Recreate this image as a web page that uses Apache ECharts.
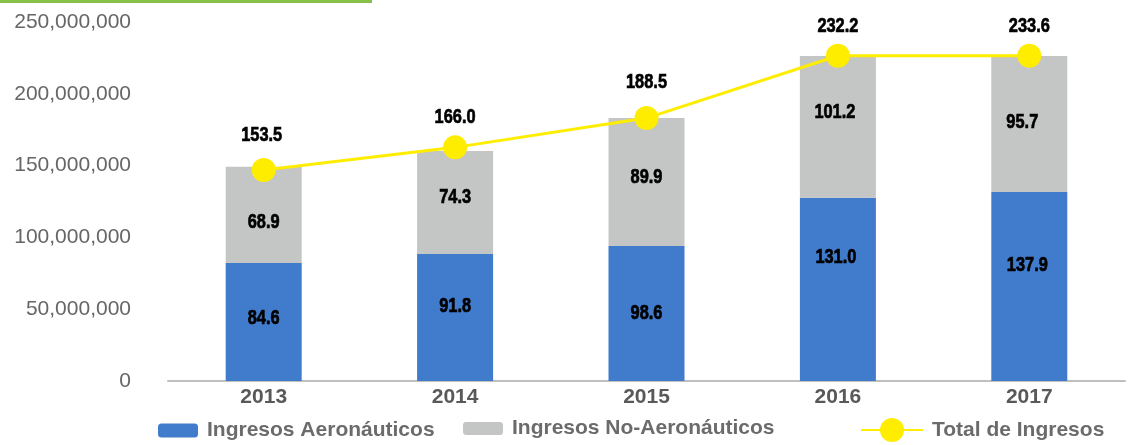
<!DOCTYPE html>
<html>
<head>
<meta charset="utf-8">
<script src="https://cdn.jsdelivr.net/npm/echarts@6/dist/echarts.min.js"></script>
<style>
  html, body { margin: 0; padding: 0; background: #fff; }
  #chart { width: 1130px; height: 445px; }
</style>
</head>
<body>
<div id="chart"></div>
<script>
// datos
var years = ['2013', '2014', '2015', '2016', '2017'];
var aeronauticos = [82.2e6, 88.4e6, 94.0e6, 127.6e6, 131.6e6];
var noAeronauticos = [67.0e6, 71.8e6, 89.1e6, 98.7e6, 94.7e6];
var totalIngresos = [146.9e6, 162.7e6, 183.1e6, 226.5e6, 226.5e6];
// etiquetas (millones)
var aeroLabels = ['84.6', '91.8', '98.6', '131.0', '137.9'];
var noAeroLabels = ['68.9', '74.3', '89.9', '101.2', '95.7'];
var totalLabels = ['153.5', '166.0', '188.5', '232.2', '233.6'];
var yTicks = [0, 50e6, 100e6, 150e6, 200e6, 250e6];

var AZUL = '#417ccc', GRIS = '#c4c5c5', AMARILLO = '#ffed00';
var sansFont = 'Arial, "Liberation Sans", sans-serif';

// ajustes de posicion de etiquetas en px (como en el original)
var aeroOff = [[0, -4], [0, -11], [0, 0], [-2, -32], [-2, -21]];
var noAeroOff = [[0, 7], [0, -5], [0, -5], [-3, -15], [-7, -2]];
var totalOff = [[-2, -35], [0, -30], [0, -36], [0, -30], [0, -30]];

function fmt(v) {
    return String(v).replace(/\B(?=(\d{3})+(?!\d))/g, ',');
}

// etiqueta en negrita angosta (Arial Narrow aprox.)
function serieEtiquetas(nombre, centros, textos, offs) {
    return {
        name: nombre,
        type: 'custom',
        z: 10,
        silent: true,
        data: centros.map(function (v, i) { return [i, v]; }),
        renderItem: function (params, api) {
            var i = params.dataIndex;
            var p = api.coord([api.value(0), api.value(1)]);
            return {
                type: 'text',
                x: p[0] + offs[i][0],
                y: p[1] + offs[i][1],
                scaleX: 0.78,
                style: {
                    text: textos[i],
                    fill: '#000',
                    stroke: '#000',
                    lineWidth: 0.7,
                    font: 'bold 21px ' + sansFont,
                    align: 'center',
                    verticalAlign: 'middle'
                }
            };
        }
    };
}

var centroAero = aeronauticos.map(function (v) { return v / 2; });
var centroNoAero = noAeronauticos.map(function (v, i) { return aeronauticos[i] + v / 2; });

var chart = echarts.init(document.getElementById('chart'), null, { renderer: 'canvas' });

var legendText = { color: '#6b6b6b', fontSize: 21, fontWeight: 'bold', fontFamily: sansFont, padding: [0, 0, 0, 4] };

var option = {
    animation: false,
    backgroundColor: '#fff',
    graphic: [{
        type: 'rect', left: 0, top: 0,
        shape: { width: 372, height: 3 },
        style: { fill: '#86c048' }
    }],
    grid: { left: 168, right: 5, top: 22, bottom: 64 },
    legend: [
        { data: ['Ingresos Aeronáuticos'], left: 158, top: 420, padding: 0, itemWidth: 40, itemHeight: 14, textStyle: legendText, selectedMode: false },
        { data: ['Ingresos No-Aeronáuticos'], left: 463, top: 418, padding: 0, itemWidth: 40, itemHeight: 13, textStyle: legendText, selectedMode: false },
        { data: ['Total de Ingresos'], left: 860, top: 418, padding: 0, itemWidth: 62, itemHeight: 30, textStyle: legendText, selectedMode: false }
    ],
    xAxis: {
        type: 'category',
        data: years,
        axisLine: { lineStyle: { color: '#bfbfbf', width: 2 } },
        axisTick: { show: false },
        axisLabel: { color: '#595959', fontSize: 21, fontWeight: 'bold', fontFamily: sansFont, margin: 6 }
    },
    yAxis: {
        type: 'value',
        min: yTicks[0],
        max: yTicks[yTicks.length - 1],
        interval: yTicks[1] - yTicks[0],
        splitLine: { show: false },
        axisLine: { show: false },
        axisTick: { show: false },
        axisLabel: { color: '#666', fontSize: 21, fontFamily: sansFont, margin: 37, formatter: fmt }
    },
    series: [
        {
            name: 'Ingresos Aeronáuticos',
            type: 'bar',
            stack: 'ingresos',
            barWidth: 76,
            itemStyle: { color: AZUL },
            data: aeronauticos
        },
        {
            name: 'Ingresos No-Aeronáuticos',
            type: 'bar',
            stack: 'ingresos',
            barWidth: 76,
            itemStyle: { color: GRIS },
            data: noAeronauticos
        },
        {
            name: 'Total de Ingresos',
            type: 'line',
            z: 5,
            symbol: 'circle',
            symbolSize: 24,
            itemStyle: { color: AMARILLO },
            lineStyle: { color: AMARILLO, width: 3 },
            data: totalIngresos
        },
        serieEtiquetas('et-aero', centroAero, aeroLabels, aeroOff),
        serieEtiquetas('et-noaero', centroNoAero, noAeroLabels, noAeroOff),
        serieEtiquetas('et-total', totalIngresos, totalLabels, totalOff)
    ]
};

chart.setOption(option);
</script>
</body>
</html>
